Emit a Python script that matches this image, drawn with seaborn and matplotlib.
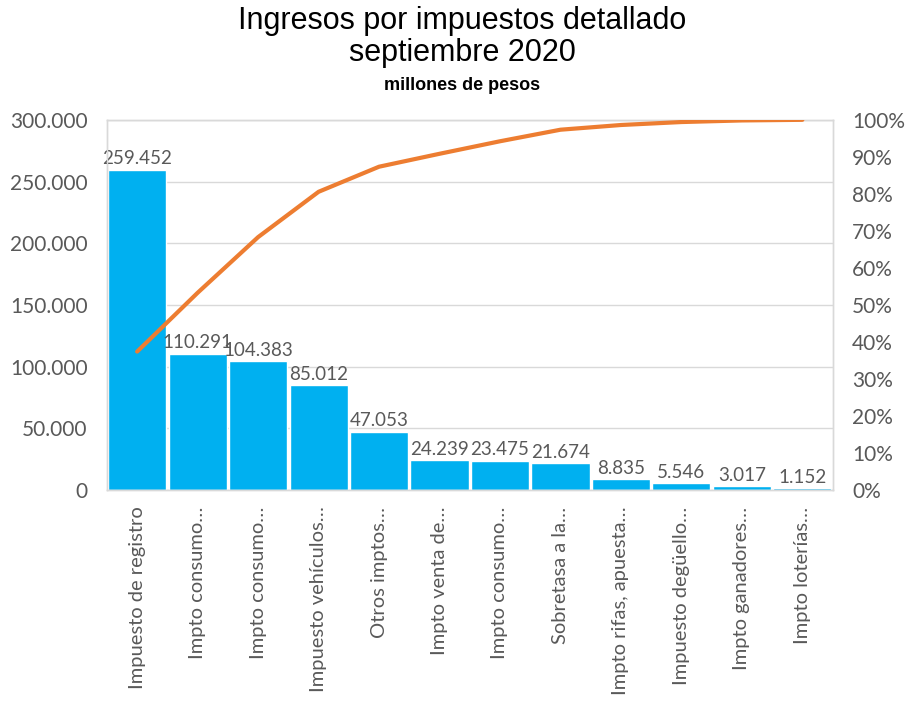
import numpy as np
import pandas as pd
import matplotlib
matplotlib.use("Agg")
import matplotlib.pyplot as plt
import seaborn as sns
from matplotlib.ticker import FuncFormatter

# Data (millones de pesos)
categorias = [
    "Impuesto de registro",
    "Impto consumo…",
    "Impto consumo…",
    "Impuesto vehículos…",
    "Otros imptos…",
    "Impto venta de…",
    "Impto consumo…",
    "Sobretasa a la…",
    "Impto rifas, apuesta…",
    "Impuesto degüello…",
    "Impto ganadores…",
    "Impto loterías…",
]
valores = [259452, 110291, 104383, 85012, 47053, 24239, 23475, 21674, 8835, 5546, 3017, 1152]
etiquetas = ["259.452", "110.291", "104.383", "85.012", "47.053", "24.239",
             "23.475", "21.674", "8.835", "5.546", "3.017", "1.152"]

df = pd.DataFrame({"pos": np.arange(len(valores)), "valor": valores})
df["acum_pct"] = df["valor"].cumsum() / df["valor"].sum() * 100

sns.set_style("white")
plt.rcParams["font.family"] = ["Lato", "DejaVu Sans"]

fig = plt.figure(figsize=(9.06, 7.09), dpi=100)
ax = fig.add_axes([0.118, 0.309, 0.801, 0.522])

sns.barplot(x="pos", y="valor", data=df, color="#00B0F0", saturation=1,
            width=0.96, ax=ax, zorder=2)
for i, (v, t) in enumerate(zip(valores, etiquetas)):
    ax.text(i, v + 2000, t, ha="center", va="bottom", fontsize=13.5, color="#595959")

ax.set_ylim(0, 300000)
ax.set_yticks(np.arange(0, 300001, 50000))
ax.yaxis.set_major_formatter(FuncFormatter(lambda y, p: f"{int(y):,}".replace(",", ".")))
ax.set_xlim(-0.5, len(valores) - 0.5)
ax.set_xticks(np.arange(len(valores)))
ax.set_xticklabels(categorias, rotation=90, fontsize=14.5, color="#595959")
ax.tick_params(axis="y", labelsize=15, colors="#595959", length=0, pad=14)
ax.tick_params(axis="x", length=0, pad=12)
ax.grid(axis="y", color="#D9D9D9", linewidth=1, zorder=0)
ax.set_axisbelow(True)
ax.set_xlabel("")
ax.set_ylabel("")
for s in ax.spines.values():
    s.set_color("#D9D9D9")
    s.set_linewidth(1)

ax2 = ax.twinx()
sns.lineplot(x="pos", y="acum_pct", data=df, color="#ED7D31", linewidth=3,
             ax=ax2, zorder=3)
ax2.set_ylim(0, 100)
ax2.set_yticks(np.arange(0, 101, 10))
ax2.yaxis.set_major_formatter(FuncFormatter(lambda y, p: f"{int(y)}%"))
ax2.tick_params(axis="y", labelsize=15, colors="#595959", length=0, pad=14)
ax2.set_ylabel("")
ax2.set_xlabel("")
for s in ax2.spines.values():
    s.set_color("#D9D9D9")
    s.set_linewidth(1)

fig.text(0.51, 0.97, "Ingresos por impuestos detallado", ha="center", va="center",
         fontsize=22, family=["Liberation Sans", "DejaVu Sans"], color="black")
fig.text(0.51, 0.925, "septiembre 2020", ha="center", va="center",
         fontsize=22, family=["Liberation Sans", "DejaVu Sans"], color="black")
fig.text(0.51, 0.879, "millones de pesos", ha="center", va="center",
         fontsize=13, fontweight="bold", family=["Liberation Sans", "DejaVu Sans"], color="black")

fig.savefig("out.png", dpi=100)
